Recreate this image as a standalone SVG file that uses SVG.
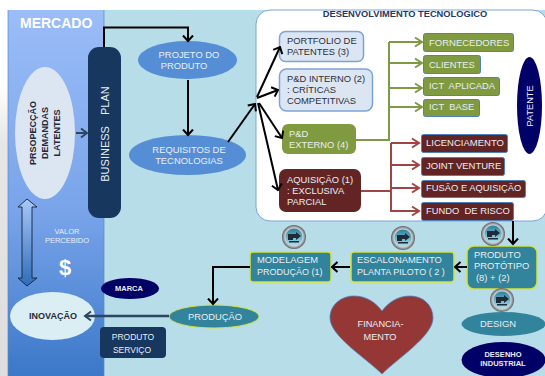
<svg xmlns="http://www.w3.org/2000/svg" width="545" height="376" viewBox="0 0 545 376">
<defs>
<linearGradient id="blue" x1="0" y1="0" x2="0" y2="1"><stop offset="0" stop-color="#9bbdf8"/><stop offset="0.55" stop-color="#79a4ea"/><stop offset="1" stop-color="#3b78c8"/></linearGradient>
<linearGradient id="dbl" x1="0" y1="0" x2="0" y2="1"><stop offset="0" stop-color="#a9c8f8"/><stop offset="1" stop-color="#2f6cb8"/></linearGradient>
<linearGradient id="gray" x1="0" y1="0" x2="0" y2="1"><stop offset="0" stop-color="#ffffff"/><stop offset="0.2" stop-color="#e6e6e6"/><stop offset="1" stop-color="#dddddd"/></linearGradient>
<marker id="ak" markerWidth="8" markerHeight="12" refX="6.5" refY="6" orient="auto" markerUnits="userSpaceOnUse"><path d="M1 1L6.5 6L1 11" fill="none" stroke="#000" stroke-width="2"/></marker>
<marker id="an" markerWidth="9" markerHeight="12" refX="7" refY="6" orient="auto" markerUnits="userSpaceOnUse"><path d="M1 1.5L7 6L1 10.5" fill="none" stroke="#2c4660" stroke-width="2"/></marker>
<marker id="ag" markerWidth="10" markerHeight="12" refX="8" refY="6" orient="auto" markerUnits="userSpaceOnUse"><path d="M1 1.5L8 6L1 10.5" fill="none" stroke="#7f9a45" stroke-width="2"/></marker>
<marker id="ar" markerWidth="10" markerHeight="12" refX="8" refY="6" orient="auto" markerUnits="userSpaceOnUse"><path d="M1 1.5L8 6L1 10.5" fill="none" stroke="#a04545" stroke-width="2"/></marker>
<linearGradient id="orb" x1="0" y1="0" x2="0" y2="1"><stop offset="0" stop-color="#2f7f9e"/><stop offset="1" stop-color="#a5e2f0"/></linearGradient>
<radialGradient id="rim" cx="0.5" cy="0.5" r="0.5"><stop offset="0.75" stop-color="#c9d0d4"/><stop offset="1" stop-color="#5f5f5f"/></radialGradient>
<g id="orbi"><circle r="12" fill="url(#rim)"/><circle r="8.5" fill="url(#orb)"/><path d="M-6 -3H2V-5L7 -1L2 3V1H-1V3H-6Z" fill="#1f2c38"/><path d="M-5 4H5V5.500H-5Z" fill="#1f2c38"/></g>
</defs>
<style>
text{font-family:"Liberation Sans",Arial,sans-serif;font-size:9.4px}
.w{fill:#e9eef6}.k{fill:#2b2f3a}.c{text-anchor:middle}.b{font-weight:bold}
.gb{fill:#7f9a3f;stroke:#4f81bd;stroke-width:1}.rb{fill:#632523;stroke:#4f81bd;stroke-width:1}
.tb{fill:#31849b;stroke:#d6e23c;stroke-width:1.5}
.lb{fill:#dce6f2;stroke:#7ba3d8;stroke-width:1.5}
.cnk,.cnn,.cng,.cnr{fill:none}
.cnk{stroke:#000;stroke-width:2;marker-end:url(#ak)}
.cnn{stroke:#2c4660;stroke-width:2;marker-end:url(#an)}
.cng{stroke:#7f9a45;stroke-width:2}
.cnr{stroke:#a04545;stroke-width:2}
</style>
<rect width="545" height="376" fill="#fff"/>
<rect x="0" y="85" width="8" height="291" fill="url(#gray)"/>
<rect x="8" y="10" width="537" height="366" fill="#b7dde8"/>
<rect x="8" y="10" width="96" height="366" fill="url(#blue)"/>
<path d="M8 10V376M104 10V376" stroke="#5b86c0" stroke-width="0.7" fill="none"/>
<rect id="devpanel" x="256" y="10" width="291" height="211" rx="14" fill="#fff" stroke="#7ba3d8"/>

<g id="mercado"><text x="20" y="28" fill="#fff" class="b" style="font-size:14px">MERCADO</text></g>
<g id="prospeccao"><ellipse cx="45" cy="133" rx="30" ry="66" fill="#dce6f2"/>
<g transform="translate(36 133) rotate(-90)"><text class="c b" fill="#1f2a3a" style="font-size:9px" y="0">PRSOPECÇÃO</text><text class="c b" fill="#1f2a3a" style="font-size:9px" y="12">DEMANDAS</text><text class="c b" fill="#1f2a3a" style="font-size:9px" y="24">LATENTES</text></g></g>
<g id="business"><rect x="88" y="47" width="33" height="171" rx="11" fill="#17375e"/><text transform="translate(109 134) rotate(-90)" class="c w" style="font-size:11px">BUSINESS <tspan dx="8">PLAN</tspan></text></g>
<g id="projeto"><ellipse cx="187.5" cy="60" rx="49.5" ry="19" fill="#558ed5"/><text x="189" y="58" class="c w">PROJETO DO</text><text x="184" y="69" class="c w">PRODUTO</text></g>
<g id="requisitos"><ellipse cx="187.5" cy="155" rx="58.5" ry="20" fill="#558ed5"/><text x="189" y="153" class="c w">REQUISITOS DE</text><text x="189" y="164" class="c w">TECNOLOGIAS</text></g>

<g id="titulo"><text x="405" y="17" class="c b" fill="#1f3864" style="font-size:9.3px">DESENVOLVIMENTO TECNOLOGICO</text></g>
<g id="portfolio"><rect x="279.500" y="31.500" width="84" height="30" rx="6" class="lb"/><text x="287" y="44" class="k">PORTFOLIO DE</text><text x="287" y="55" class="k">PATENTES (3)</text></g>
<g id="interno"><rect x="279.500" y="69" width="93" height="42" rx="7" class="lb"/><text x="287" y="82" class="k">P&amp;D INTERNO (2)</text><text x="287" y="93" class="k">: CRÍTICAS</text><text x="287" y="104" class="k">COMPETITIVAS</text></g>
<g id="externo"><rect x="282" y="124" width="74" height="30" rx="6" fill="#7f9a3f"/><text x="289" y="137" class="w">P&amp;D</text><text x="289" y="148" class="w">EXTERNO (4)</text></g>
<g id="aquisicao"><rect x="279" y="169" width="82" height="43" rx="7" fill="#632523"/><text x="287" y="183" class="w">AQUISIÇÃO (1)</text><text x="287" y="194" class="w">: EXCLUSIVA</text><text x="287" y="205" class="w">PARCIAL</text></g>

<g id="fornecedores"><rect x="423.500" y="33.500" width="90" height="18" rx="2" class="gb"/><text x="429" y="46" class="w" style="font-size:9.5px">FORNECEDORES</text></g>
<g id="clientes"><rect x="423.500" y="55.500" width="57" height="18" rx="2" class="gb"/><text x="429" y="68" class="w">CLIENTES</text></g>
<g id="ictaplicada"><rect x="423.500" y="77.500" width="76" height="18" rx="2" class="gb"/><text x="429" y="89" class="w" xml:space="preserve">ICT  APLICADA</text></g>
<g id="ictbase"><rect x="423.500" y="99.500" width="56" height="17" rx="2" class="gb"/><text x="429" y="110" class="w" xml:space="preserve">ICT  BASE</text></g>
<g id="patente"><ellipse cx="529.500" cy="105.500" rx="12.500" ry="48.500" fill="#000066"/><text transform="translate(533 106) rotate(-90)" class="c w" style="font-size:9.2px">PATENTE</text></g>
<g id="licenciamento"><rect x="421.500" y="134.500" width="86" height="18" rx="2" class="rb"/><text x="426" y="146" class="w" style="font-size:9.5px">LICENCIAMENTO</text></g>
<g id="joint"><rect x="421.500" y="157.500" width="83" height="18" rx="2" class="rb"/><text x="426" y="169" class="w" style="font-size:9.5px">JOINT VENTURE</text></g>
<g id="fusao"><rect x="421.500" y="180.500" width="104" height="17" rx="2" class="rb"/><text x="426" y="191" class="w">FUSÃO E AQUISIÇÃO</text></g>
<g id="fundo"><rect x="421.500" y="202.500" width="92" height="18" rx="2" class="rb"/><text x="426" y="214" class="w" xml:space="preserve">FUNDO  DE RISCO</text></g>

<g id="prototipo"><rect x="467" y="246" width="70" height="43" rx="7" class="tb"/><text x="474" y="258" class="w">PRODUTO</text><text x="474" y="269" class="w">PROTÓTIPO</text><text x="476" y="281" class="w">(8) + (2)</text></g>
<g id="escalonamento"><rect x="351" y="252" width="103" height="30" rx="3" class="tb"/><text x="357" y="263" class="w">ESCALONAMENTO</text><text x="357" y="275" class="w" style="font-size:9px">PLANTA PILOTO ( 2 )</text></g>
<g id="modelagem"><rect x="250" y="252" width="81" height="30" rx="3" class="tb"/><text x="257" y="263" class="w">MODELAGEM</text><text x="257" y="275" class="w" style="font-size:9px">PRODUÇÃO (1)</text></g>
<g id="orb1"><use href="#orbi" x="294" y="237"/></g>
<g id="orb2"><use href="#orbi" x="403" y="238"/></g>
<g id="orb3"><use href="#orbi" x="493" y="234"/></g>
<g id="orb4"><use href="#orbi" x="502" y="300"/></g>
<g id="design"><ellipse cx="503.500" cy="324" rx="42" ry="12" fill="#31849b"/><text x="498" y="327" class="c w">DESIGN</text></g>
<g id="desenho"><ellipse cx="503.500" cy="360" rx="42" ry="18" fill="#000066"/><text x="503" y="357" class="c b w" style="font-size:7.500px">DESENHO</text><text x="503" y="366" class="c b w" style="font-size:7.500px">INDUSTRIAL</text></g>
<g id="financiamento"><path d="M382 374C366 358 330 336 330 318C330 304 342 296 354 296C367 296 376 303 382 311C388 303 397 296 410 296C423 296 433 305 433 318C433 336 398 358 382 374Z" fill="#953735" stroke="#4f81bd" stroke-width="0.8"/><text x="380.500" y="327" class="c w" style="font-size:9.2px">FINANCIA-</text><text x="380" y="340" class="c w" style="font-size:9.2px">MENTO</text></g>
<g id="valor"><path d="M27 199L37 207H32V278H37L27 286L18 278H22V207H18Z" fill="url(#dbl)" stroke="#12233a" stroke-width="0.9"/>
<text x="67" y="234" class="c w" style="font-size:7.500px">VALOR</text><text x="67" y="243" class="c w" style="font-size:7.500px">PERCEBIDO</text><text x="65" y="275" class="c b" fill="#fff" style="font-size:22px">$</text></g>
<g id="marca"><ellipse cx="130" cy="288.500" rx="29" ry="10.500" fill="#000066"/><text x="129" y="291" class="c b w" style="font-size:7.500px">MARCA</text></g>
<g id="inovacao"><ellipse cx="52.500" cy="316" rx="42.500" ry="24" fill="#dbeef4"/><text x="53" y="319" class="c b" fill="#1f2a3a" style="font-size:9px">INOVAÇÃO</text></g>
<g id="producao"><ellipse cx="214" cy="316.500" rx="45" ry="11.500" fill="#31849b" stroke="#d6e23c"/><text x="215" y="320" class="c w">PRODUÇÃO</text></g>
<g id="produtoservico"><rect x="100" y="327" width="66" height="31" rx="4" fill="#17375e"/><text x="133" y="340" class="c w" style="font-size:8.500px">PRODUTO</text><text x="132" y="353" class="c w" style="font-size:8.500px">SERVIÇO</text></g>

<g id="connectors">
<path class="cnk" d="M104 47V27.5H188V41"/>
<path class="cnk" d="M188 80V135"/>
<path class="cnk" d="M228 142L255 104"/>
<path class="cnk" d="M257 97L280 47"/>
<path class="cnk" d="M257 98L278 90"/>
<path class="cnk" d="M259 103L282 138"/>
<path class="cnk" d="M258 103L278 190"/>
<path class="cnn" d="M76 133H87"/>
<path class="cng" d="M356 140H389V42"/>
<path class="cng" d="M389 42H422" marker-end="url(#ag)"/>
<path class="cng" d="M389 63H422" marker-end="url(#ag)"/>
<path class="cng" d="M389 88H422" marker-end="url(#ag)"/>
<path class="cng" d="M389 107H422" marker-end="url(#ag)"/>
<path class="cnr" d="M361 191H391V143"/>
<path class="cnr" d="M391 143H419" marker-end="url(#ar)"/>
<path class="cnr" d="M391 165H419" marker-end="url(#ar)"/>
<path class="cnr" d="M391 188H419" marker-end="url(#ar)"/>
<path class="cnr" d="M391 191V211H419" marker-end="url(#ar)"/>
<path class="cnk" d="M513 221V244"/>
<path class="cnk" d="M467 267H455"/>
<path class="cnk" d="M350 267H332"/>
<path class="cnk" d="M250 267H213V304"/>
<path class="cnn" style="stroke-width:2.5" d="M169 316H85"/>
</g>
</svg>
